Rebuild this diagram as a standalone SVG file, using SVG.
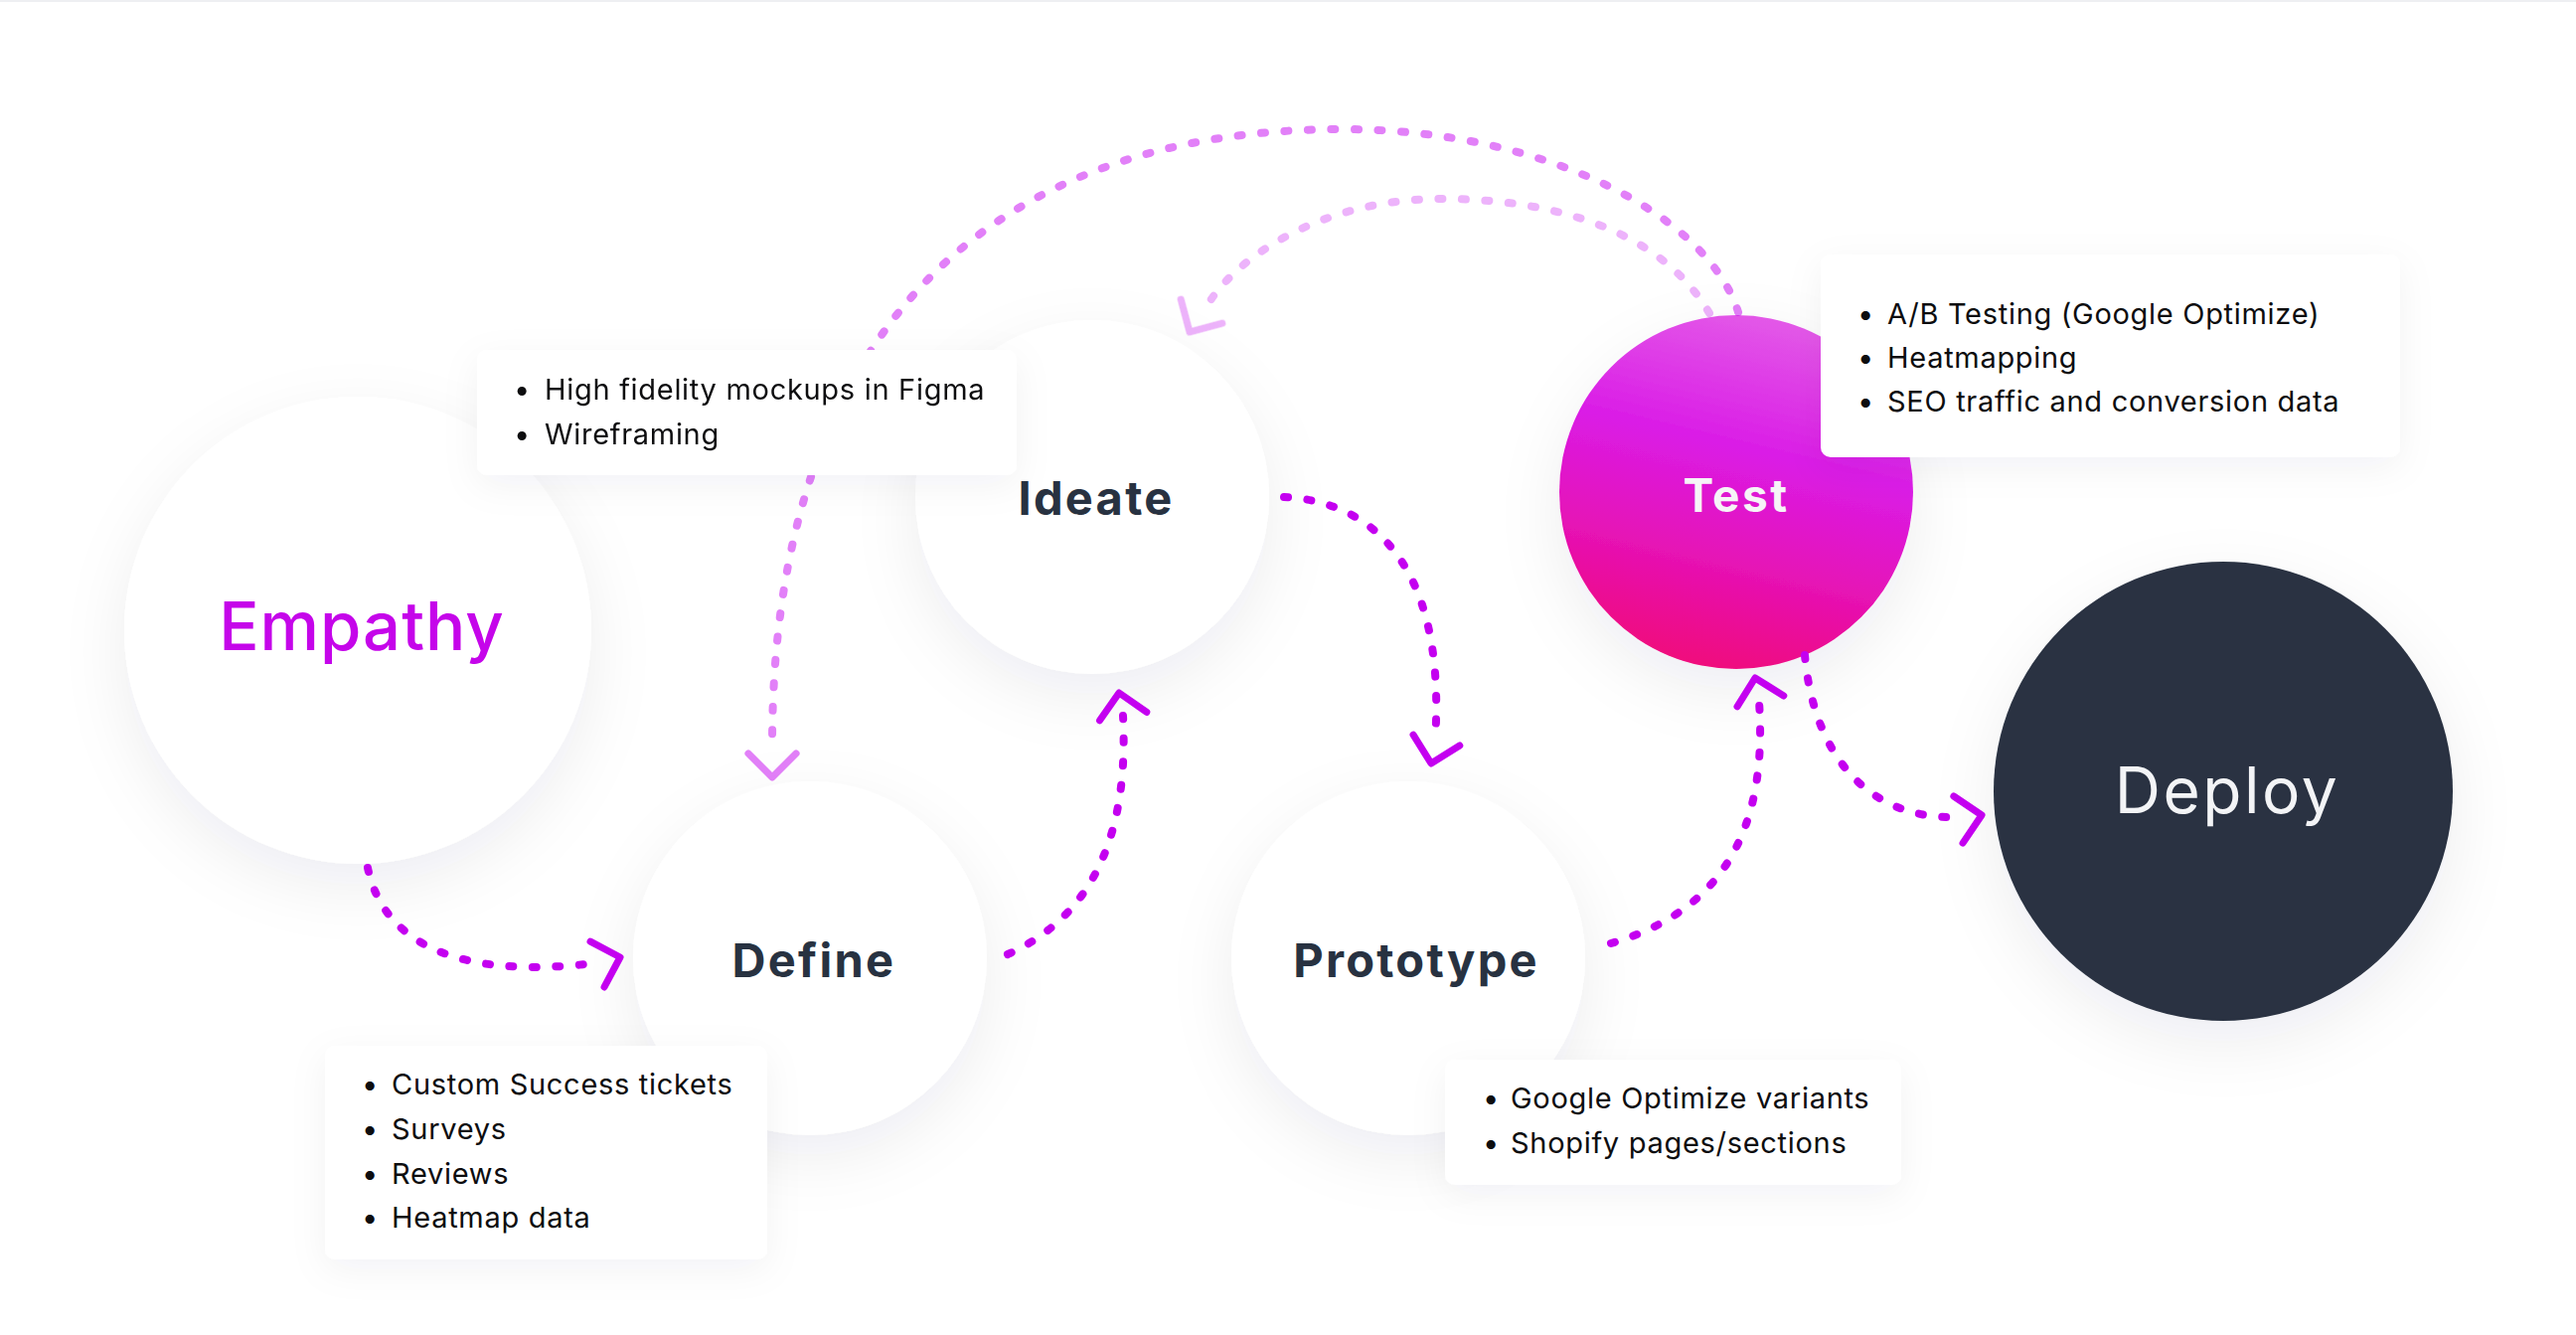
<svg xmlns="http://www.w3.org/2000/svg" xmlns:xlink="http://www.w3.org/1999/xlink" width="2592" height="1343" viewBox="0 0 2592 1343">
  <style>
    .label { font-family: Inter, "Noto Sans", "Liberation Sans", sans-serif; font-weight: 700; font-size: 47px; letter-spacing: 2.3px; fill: #283241; text-anchor: middle; }
    .note { font-family: Inter, "Noto Sans", "Liberation Sans", sans-serif; font-size: 29px; letter-spacing: 0.7px; fill: #0d0d0f; }
    .box { fill: #ffffff; }
    .dot { fill: none; stroke: #c400f0; stroke-width: 8; stroke-linecap: round; stroke-dasharray: 4 19.5; }
    .chev { fill: none; stroke: #c400f0; stroke-width: 7; stroke-linecap: round; stroke-linejoin: round; }
    .faint { opacity: 0.5; }
    .fainter { opacity: 0.3; }
  </style>
  <defs>
    <filter id="shadow" x="-40%" y="-40%" width="180%" height="190%">
      <feDropShadow dx="0" dy="22" stdDeviation="32" flood-color="#1c2a4a" flood-opacity="0.07"/>
    </filter>
    <filter id="boxshadow" x="-20%" y="-40%" width="140%" height="190%">
      <feDropShadow dx="0" dy="10" stdDeviation="18" flood-color="#1c2a4a" flood-opacity="0.05"/>
    </filter>
    <linearGradient id="testGrad" x1="0.62" y1="0" x2="0.38" y2="1">
      <stop offset="0" stop-color="#e35be8"/>
      <stop offset="0.38" stop-color="#da1ce6"/>
      <stop offset="0.7" stop-color="#e612b4"/>
      <stop offset="1" stop-color="#f0077a"/>
    </linearGradient>
    <path id="chev" d="M -24 -24 L 0 0 L -24 24"/>
  </defs>

  <rect x="0" y="0" width="2592" height="1343" fill="#ffffff"/>
  <rect x="0" y="0" width="2592" height="2" fill="#eeeff2"/>

  <g id="node-empathy">
    <circle cx="360" cy="634" r="235" fill="#ffffff" filter="url(#shadow)"/>
    <text x="364" y="654" style="font-family: Inter, 'Noto Sans', 'Liberation Sans', sans-serif; font-size: 67px; font-weight: 500; letter-spacing: 1px; fill: #c505ea; text-anchor: middle;">Empathy</text>
  </g>
  <g id="node-ideate">
    <circle cx="1099" cy="500" r="178" fill="#ffffff" filter="url(#shadow)"/>
    <text class="label" x="1103" y="518">Ideate</text>
  </g>
  <g id="node-define">
    <circle cx="815" cy="964" r="178" fill="#ffffff" filter="url(#shadow)"/>
    <text class="label" x="819" y="983">Define</text>
  </g>
  <g id="node-prototype">
    <circle cx="1417" cy="964" r="178" fill="#ffffff" filter="url(#shadow)"/>
    <text class="label" x="1425" y="983">Prototype</text>
  </g>
  <g id="node-test">
    <circle cx="1747" cy="495" r="178" fill="url(#testGrad)" filter="url(#shadow)"/>
    <text x="1747" y="515" style="font-family: Inter, 'Noto Sans', 'Liberation Sans', sans-serif; font-size: 46px; font-weight: 700; letter-spacing: 2.5px; fill: #f6f4f7; text-anchor: middle;">Test</text>
  </g>
  <g id="node-deploy">
    <circle cx="2237" cy="796" r="231" fill="#2a3343" filter="url(#shadow)"/>
    <text x="2241" y="818" style="font-family: Inter, 'Noto Sans', 'Liberation Sans', sans-serif; font-size: 64px; font-weight: 400; letter-spacing: 2.5px; fill: #f3f4f6; text-anchor: middle;">Deploy</text>
  </g>

  <g id="connectors">
    <!-- Empathy -> Define -->
    <path class="dot" d="M 370 873 C 385 945 455 988 606 968"/>
    <use href="#chev" class="chev" transform="translate(624 963) rotate(-17)"/>
    <!-- Define -> Ideate -->
    <path class="dot" d="M 1014 960 C 1085 928 1137 860 1130 720"/>
    <use href="#chev" class="chev" transform="translate(1126 697) rotate(-100)"/>
    <!-- Ideate -> Prototype -->
    <path class="dot" d="M 1292 500 C 1390 505 1455 580 1444 745"/>
    <use href="#chev" class="chev" transform="translate(1440 768) rotate(103)"/>
    <!-- Prototype -> Test -->
    <path class="dot" d="M 1621 949 C 1720 920 1780 850 1770 706"/>
    <use href="#chev" class="chev" transform="translate(1766 682) rotate(-103)"/>
    <!-- Test -> Deploy -->
    <path class="dot" d="M 1816 659 C 1825 760 1880 825 1970 822"/>
    <use href="#chev" class="chev" transform="translate(1994 820) rotate(-11)"/>
    <!-- Test -> Define (back loop) -->
    <g class="faint">
      <path class="dot" d="M 1749 314 C 1720 220 1560 130 1350 130 C 1000 130 777 330 777 750"/>
      <use href="#chev" class="chev" transform="translate(777 782) rotate(90)"/>
    </g>
    <!-- Test -> Ideate (back loop) -->
    <g class="fainter">
      <path class="dot" d="M 1720 315 C 1670 230 1560 200 1450 200 C 1330 200 1240 260 1212 312"/>
      <use href="#chev" class="chev" transform="translate(1197 334) rotate(120)"/>
    </g>
  </g>

  <g id="notes-ideate">
    <rect class="box" x="480" y="352" width="543" height="126" rx="10" filter="url(#boxshadow)"/>
    <text class="note" x="517" y="402">•</text>
    <text class="note" x="548" y="402">High fidelity mockups in Figma</text>
    <text class="note" x="517" y="447">•</text>
    <text class="note" x="548" y="447">Wireframing</text>
  </g>
  <g id="notes-define">
    <rect class="box" x="327" y="1052" width="445" height="215" rx="10" filter="url(#boxshadow)"/>
    <text class="note" x="364" y="1101">•</text>
    <text class="note" x="394" y="1101">Custom Success tickets</text>
    <text class="note" x="364" y="1146">•</text>
    <text class="note" x="394" y="1146">Surveys</text>
    <text class="note" x="364" y="1191">•</text>
    <text class="note" x="394" y="1191">Reviews</text>
    <text class="note" x="364" y="1235">•</text>
    <text class="note" x="394" y="1235">Heatmap data</text>
  </g>
  <g id="notes-prototype">
    <rect class="box" x="1454" y="1066" width="459" height="126" rx="10" filter="url(#boxshadow)"/>
    <text class="note" x="1492" y="1115">•</text>
    <text class="note" x="1520" y="1115">Google Optimize variants</text>
    <text class="note" x="1492" y="1160">•</text>
    <text class="note" x="1520" y="1160">Shopify pages/sections</text>
  </g>
  <g id="notes-test">
    <rect class="box" x="1832" y="256" width="583" height="204" rx="10" filter="url(#boxshadow)"/>
    <text class="note" x="1869" y="326">•</text>
    <text class="note" x="1899" y="326">A/B Testing (Google Optimize)</text>
    <text class="note" x="1869" y="370">•</text>
    <text class="note" x="1899" y="370">Heatmapping</text>
    <text class="note" x="1869" y="414">•</text>
    <text class="note" x="1899" y="414">SEO traffic and conversion data</text>
  </g>
</svg>
